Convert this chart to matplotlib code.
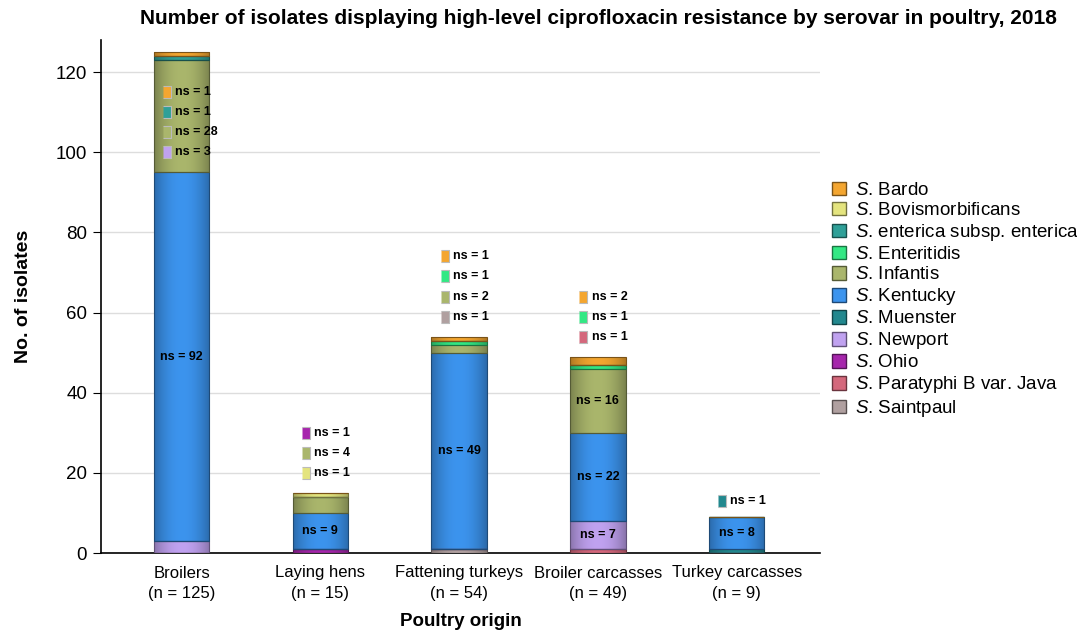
import matplotlib
matplotlib.use('Agg')
import matplotlib.pyplot as plt
import numpy as np
from matplotlib.colors import to_rgb

plt.rcParams['font.family'] = ['Liberation Sans', 'DejaVu Sans']
plt.rcParams['mathtext.fontset'] = 'custom'
plt.rcParams['mathtext.it'] = 'Liberation Sans:italic'
plt.rcParams['mathtext.rm'] = 'Liberation Sans'

# categories and totals
categories = ['Broilers', 'Laying hens', 'Fattening turkeys', 'Broiler carcasses', 'Turkey carcasses']
totals = [125, 15, 54, 49, 9]

# serovars in legend order (stacked bottom-up in reverse order)
serovars = ['Bardo', 'Bovismorbificans', 'enterica subsp. enterica', 'Enteritidis', 'Infantis',
            'Kentucky', 'Muenster', 'Newport', 'Ohio', 'Paratyphi B var. Java', 'Saintpaul']
bardo = [1, 0, 1, 2, 0]
bovismorbificans = [0, 1, 0, 0, 0]
enterica = [1, 0, 0, 0, 0]
enteritidis = [0, 0, 1, 1, 0]
infantis = [28, 4, 2, 16, 0]
kentucky = [92, 9, 49, 22, 8]
muenster = [0, 0, 0, 0, 1]
newport = [3, 0, 0, 7, 0]
ohio = [0, 1, 0, 0, 0]
paratyphi = [0, 0, 0, 1, 0]
saintpaul = [0, 0, 1, 0, 0]
values = [bardo, bovismorbificans, enterica, enteritidis, infantis,
          kentucky, muenster, newport, ohio, paratyphi, saintpaul]

colors = ['#F4A630', '#E4E47E', '#2FA098', '#33E884', '#AAB66C',
          '#3C94EE', '#22888E', '#C0A2F0', '#A626AC', '#D4687C', '#B0A0A0']

# segments labelled inside the bar (serovar, category index)
inside = [('Kentucky', i) for i in range(5)] + [('Infantis', 3), ('Newport', 3)]
# where the list of outside labels starts for each bar, and its order
note_top = [115, 30, 74, 64, 13]
note_step = 5
note_reverse = [False, True, False, False, False]


def darker(c, f=0.6):
    r, g, b = to_rgb(c)
    return (r * f, g * f, b * f)


fig = plt.figure(figsize=(10.77, 6.37), dpi=100)
ax = fig.add_axes([101 / 1077, 84 / 637, 719 / 1077, 513 / 637])

x = np.arange(len(categories))
w = 0.4
t = np.linspace(-1, 1, 60)
shade = 1 - 0.28 * t ** 2
bottom = np.zeros(len(categories))
for name, vals, col in reversed(list(zip(serovars, values, colors))):
    vals = np.array(vals, dtype=float)
    bars = ax.bar(x, vals, w, bottom=bottom, color=col, linewidth=0, zorder=3)
    ax.bar(x, vals, w, bottom=bottom, facecolor='none', edgecolor=darker(col, 0.5),
           linewidth=0.8, zorder=4)
    rgb = np.array(to_rgb(col))
    img = np.clip(rgb[None, :] * shade[:, None], 0, 1)[None, :, :]
    for p, v in zip(bars.patches, vals):
        if v > 0:
            x0, y0 = p.get_x(), p.get_y()
            im = ax.imshow(img, extent=[x0, x0 + p.get_width(), y0, y0 + p.get_height()],
                           aspect='auto', interpolation='bilinear', zorder=3.5)
            im.set_clip_path(p)
    for i in range(len(categories)):
        if vals[i] > 0 and (name, i) in inside:
            ax.text(x[i], bottom[i] + vals[i] / 2, 'ns = %d' % vals[i], ha='center',
                    va='center', fontsize=9, fontweight='bold', zorder=6)
    bottom += vals

# labels outside bars
for i in range(len(categories)):
    items = [(n, v, c) for n, v, c in zip(serovars, values, colors)
             if v[i] > 0 and (n, i) not in inside]
    if note_reverse[i]:
        items = items[::-1]
    for k, (name, vals, col) in enumerate(items):
        yy = note_top[i] - k * note_step
        ax.plot(x[i] - 0.105, yy, marker=[(-0.32, -0.5), (0.32, -0.5), (0.32, 0.5), (-0.32, 0.5)],
                markersize=8.5, color=col, markeredgecolor='#BBBBBB', markeredgewidth=0.8,
                zorder=6, clip_on=False)
        ax.text(x[i] - 0.045, yy, 'ns = %d' % vals[i], ha='left', va='center',
                fontsize=9, fontweight='bold', zorder=6)

ax.set_xlim(-0.58, 4.6)
ax.set_ylim(0, 128)
ax.set_yticks(range(0, 121, 20))
ax.set_xticks(x)
ax.set_xticklabels(['%s\n(n = %d)' % (c, tot) for c, tot in zip(categories, totals)],
                   fontsize=12, linespacing=1.45)
ax.tick_params(axis='x', length=0, pad=9)
ax.tick_params(axis='y', length=6, labelsize=13.5, direction='out', pad=4)
ax.yaxis.grid(True, color='#DDDDDD', linewidth=1)
ax.set_axisbelow(True)
for s in ['top', 'right']:
    ax.spines[s].set_visible(False)
ax.spines['left'].set_linewidth(1.2)
ax.spines['bottom'].set_linewidth(1.2)

ax.set_ylabel('No. of isolates', fontsize=14, fontweight='bold', labelpad=17)
ax.set_xlabel('Poultry origin', fontsize=13.5, fontweight='bold', labelpad=9)

fig.text(598 / 1077, 1 - 18 / 637,
         'Number of isolates displaying high-level ciprofloxacin resistance by serovar in poultry, 2018',
         ha='center', va='center', fontsize=15, fontweight='bold')

handles = [plt.Rectangle((0, 0), 1, 1, facecolor=c, edgecolor=darker(c, 0.5), linewidth=1)
           for c in colors]
labels = [r'$\it{S}$. ' + s for s in serovars]
fig.legend(handles, labels, loc='upper left', bbox_to_anchor=(824 / 1077, 1 - 174 / 637),
           frameon=False, fontsize=13.5, handlelength=0.75, handleheight=0.75,
           handletextpad=0.5, labelspacing=0.15, borderaxespad=0)

fig.savefig('out.png', dpi=100)
